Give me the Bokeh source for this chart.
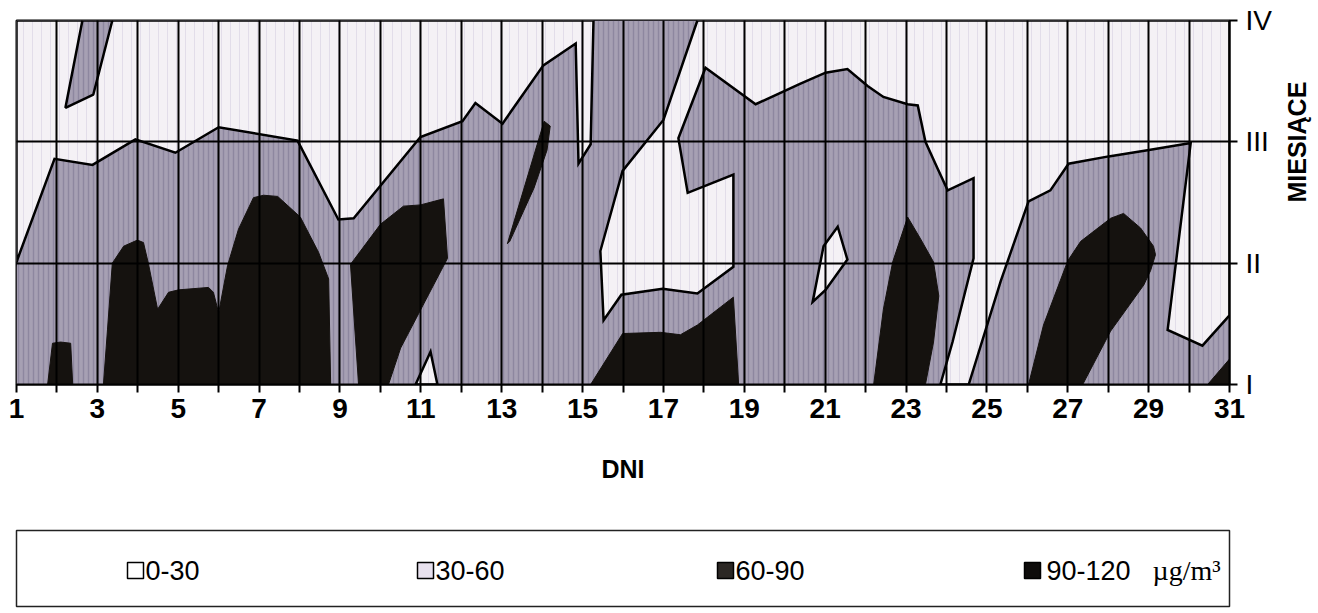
import math
from bokeh.plotting import figure
from bokeh.layouts import column
from bokeh.models import FixedTicker, Range1d, Label
from bokeh.embed import file_html
from bokeh.resources import INLINE
from bokeh.core.properties import value

# ---------------- data (day, month level I=1 .. IV=4) ----------------
days = list(range(1, 32))
month_levels = [1, 2, 3, 4]
month_labels = ["I", "II", "III", "IV"]
band_labels = ["0-30", "30-60", "60-90", "90-120"]
unit_label = "µg/m³"
x_title = "DNI"
y_title = "MIESIĄCE"

# areas of band 0-30 (outlined by the 30 isoline)
low_tl_day = [1, 1.94, 2.88, 3.94, 4.93, 6.0, 7.95, 8.96, 9.34, 10.99, 12.03, 12.35,
              13.02, 14.03, 14.83, 14.9, 15.2, 15.27, 1]
low_tl_mon = [2.01, 2.86, 2.81, 3.02, 2.91, 3.12, 3.01, 2.36, 2.37, 3.04, 3.17, 3.32,
              3.15, 3.63, 3.81, 2.82, 2.98, 4, 4]
low_r_day = [17.84, 17.0, 15.99, 15.44, 15.52, 15.96, 16.98, 17.84, 18.73, 18.73, 17.6,
             17.37, 18.04, 19.28, 20.39, 21.01, 21.55, 22.05, 22.44, 23.04, 23.29, 23.48,
             23.78, 24.03, 24.67, 24.67, 24.15, 23.85, 24.55, 25.34, 26.03, 26.57, 27.02,
             28.01, 28.97, 30.04, 29.47, 30.33, 31, 31]
low_r_mon = [4, 3.18, 2.76, 2.10, 1.53, 1.74, 1.79, 1.75, 1.97, 2.73, 2.58,
             3.03, 3.61, 3.31, 3.48, 3.57, 3.60, 3.46, 3.37, 3.31, 3.30, 3.0,
             2.78, 2.60, 2.70, 2.04, 1.35, 1, 1, 1.85, 2.51, 2.60, 2.82,
             2.88, 2.93, 2.99, 1.45, 1.32, 1.57, 4]
low_d21_day = [20.69, 20.96, 21.31, 21.55, 21.01]
low_d21_mon = [1.68, 2.14, 2.30, 2.03, 1.78]
low_d11_day = [10.87, 11.24, 11.41]
low_d11_mon = [1, 1.27, 1]

# island of band 30-60 inside the 0-30 area
mid_isl_day = [2.63, 2.21, 2.9, 3.37]
mid_isl_mon = [4, 3.28, 3.39, 4]

# areas above 60 (bands 60-90 / 90-120)
high_days = [
    [1.77, 1.89, 2.09, 2.34, 2.39],
    [3.15, 3.25, 3.37, 3.65, 3.99, 4.14, 4.26, 4.49, 4.76, 5.01, 5.75, 5.87, 6.0, 6.22,
     6.49, 6.86, 7.11, 7.46, 8.02, 8.47, 8.72, 8.77],
    [9.46, 9.26, 10.0, 10.57, 10.99, 11.56, 11.66, 10.5, 10.2],
    [13.14, 14.05, 14.2, 14.12, 13.8, 13.2],
    [15.2, 15.99, 16.93, 17.42, 17.84, 18.73, 18.86],
    [22.2, 22.44, 22.67, 23.04, 23.36, 23.68, 23.81, 23.68, 23.48],
    [26.03, 26.4, 27.0, 27.32, 28.06, 28.38, 28.8, 29.12, 29.17, 29.05, 28.88, 28.06, 27.37],
    [30.46, 31, 31],
]
high_mons = [
    [1, 1.34, 1.35, 1.34, 1],
    [1, 1.45, 2.0, 2.14, 2.19, 2.17, 2.0, 1.62, 1.76, 1.78, 1.80, 1.76, 1.59, 1.98,
     2.28, 2.54, 2.56, 2.55, 2.38, 2.09, 1.87, 1],
    [1, 1.99, 2.32, 2.47, 2.48, 2.53, 2.04, 1.30, 1],
    [2.16, 3.17, 3.13, 2.93, 2.62, 2.18],
    [1, 1.42, 1.43, 1.41, 1.49, 1.72, 1],
    [1, 1.62, 2.01, 2.38, 2.2, 2.01, 1.73, 1.35, 1],
    [1, 1.49, 2.02, 2.18, 2.37, 2.41, 2.29, 2.14, 2.07, 1.94, 1.82, 1.44, 1],
    [1, 1.21, 1],
]

# ---------------- styles ----------------
C_LOW = "#f4f1f5"
C_MID = "#a6a0b3"
C_HIGH = "#15120f"
swatch_fill = ["#ffffff", "#e8e1ee", "#2b2724", "#0e0c0b"]
FONT = "Liberation Sans"

p = figure(frame_width=1213, frame_height=364,
           x_range=Range1d(days[0], days[-1]), y_range=Range1d(month_levels[0], month_levels[-1]),
           y_axis_location="right", toolbar_location=None, output_backend="svg",
           min_border_left=16, min_border_top=20, min_border_bottom=110, min_border_right=10)
p.background_fill_color = "white"
p.border_fill_color = "white"
p.outline_line_color = "black"
p.outline_line_width = 2

# band 30-60 over the domain
p.quad(left=[days[0]], right=[days[-1]], bottom=[month_levels[0]], top=[month_levels[-1]],
       fill_color=C_MID, line_color=None,
       hatch_pattern="vertical_line", hatch_color="#5e5878", hatch_alpha=0.35,
       hatch_scale=5, hatch_weight=1.5)

# band 0-30
p.patches(xs=[low_tl_day, low_r_day, low_d21_day, low_d11_day],
          ys=[low_tl_mon, low_r_mon, low_d21_mon, low_d11_mon],
          fill_color=C_LOW, line_color="black", line_width=2.5, line_join="miter",
          hatch_pattern="vertical_line", hatch_color="#b9b0cc", hatch_alpha=0.3,
          hatch_scale=9, hatch_weight=1)

# island of 30-60
p.patch(x=mid_isl_day, y=mid_isl_mon, fill_color=C_MID, line_color="black", line_width=2.5,
        hatch_pattern="vertical_line", hatch_color="#5e5878", hatch_alpha=0.35,
        hatch_scale=5, hatch_weight=1.5)

# above 60
p.patches(xs=high_days, ys=high_mons, fill_color=C_HIGH, line_color=C_HIGH, line_width=1)

# axes & grid
p.xaxis.ticker = FixedTicker(ticks=days)
p.xaxis.major_label_overrides = {d: (str(d) if d % 2 == 1 else "") for d in days}
p.yaxis.ticker = FixedTicker(ticks=month_levels)
p.yaxis.major_label_overrides = dict(zip(month_levels, month_labels))
for ax in (p.xaxis[0], p.yaxis[0]):
    ax.axis_line_color = "black"
    ax.axis_line_width = 2
    ax.major_tick_line_color = "black"
    ax.major_tick_line_width = 2
    ax.major_tick_out = 8
    ax.major_tick_in = 0
    ax.minor_tick_line_color = None
    ax.major_label_text_color = "black"
    ax.axis_label_text_color = "black"
    ax.axis_label_text_font = FONT
    ax.axis_label_text_font_style = "bold"
    ax.axis_label_text_font_size = "25px"
    ax.major_label_text_font = FONT

p.xaxis.major_label_text_font_size = "28px"
p.xaxis.major_label_text_font_style = "bold"
p.xaxis.major_label_standoff = 6
p.xaxis.axis_label = x_title
p.xaxis.axis_label_standoff = 34

p.yaxis.major_label_text_font_size = "28px"
p.yaxis.major_label_standoff = 8
p.yaxis.axis_label = y_title
p.yaxis.axis_label_standoff = 22
try:
    p.yaxis[0].axis_label_orientation = math.pi / 2
except Exception:
    p.yaxis.axis_label = ""
    p.add_layout(Label(x=1213 + 80, y=182, x_units="screen", y_units="screen",
                       text=y_title, angle=math.pi / 2, text_font=FONT,
                       text_font_style="bold", text_font_size="25px",
                       text_align="center", text_baseline="middle"))

for g in (p.xgrid[0], p.ygrid[0]):
    g.grid_line_color = "black"
    g.grid_line_width = 2
    g.level = "overlay"

# ---------------- legend (frame aligned with the chart frame; x in page pixels) ----------------
lg = figure(frame_width=1213, frame_height=76,
            x_range=Range1d(16, 1229), y_range=Range1d(606, 530),
            toolbar_location=None, output_backend="svg",
            min_border_left=16, min_border_right=10, min_border_top=36, min_border_bottom=5)
lg.axis.visible = False
lg.xgrid.visible = False
lg.ygrid.visible = False
lg.outline_line_color = "#222222"
lg.outline_line_width = 1.5
lg.background_fill_color = "white"
lg.border_fill_color = "white"

sw_x = [135, 425, 725, 1032]
txt_x = [145, 435, 735, 1046]
row_y = 570
lg.rect(x=sw_x, y=[row_y] * 4, width=16, height=16, fill_color=swatch_fill,
        line_color="black", line_width=1.5)
lg.text(x=txt_x, y=[row_y] * 4, text=band_labels, text_font=value(FONT),
        text_font_size="27px", text_baseline="middle", text_align="left", text_color="black")
lg.text(x=[1152], y=[row_y], text=[unit_label], text_font=value("Liberation Serif"),
        text_font_size="28px", text_baseline="middle", text_align="left", text_color="black")

layout = column(p, lg)
open("out.html", "w").write(file_html(layout, INLINE))
